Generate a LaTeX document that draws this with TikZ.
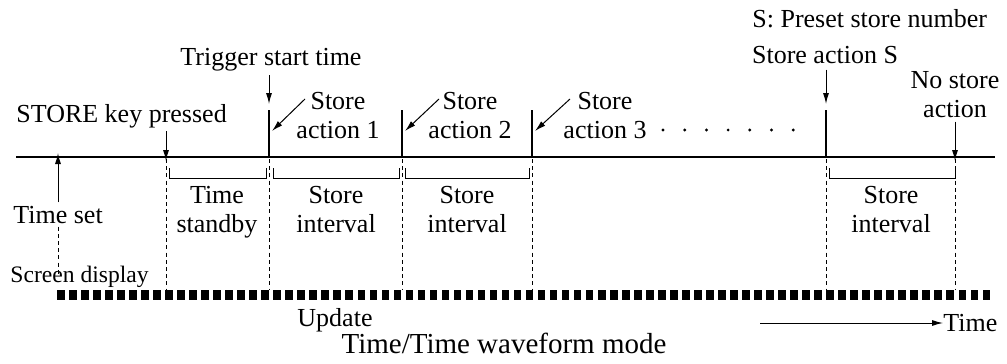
\documentclass[tikz,border=0pt]{standalone}
\usepackage{fontspec}
\setmainfont{Liberation Serif}
\usetikzlibrary{arrows.meta}

\begin{document}
\begin{tikzpicture}[
    x=0.5pt, y=-0.5pt,
    lbl/.style={inner sep=0pt, align=center, font=\fontsize{13}{14.3}\selectfont},
    axis/.style={line width=1.1pt},
    pulse/.style={line width=1.3pt},
    guide/.style={line width=0.4pt, dash pattern=on 2pt off 1.6pt},
    bracket/.style={line width=0.5pt},
    pointer/.style={-{Latex[length=5.5pt,width=3pt]}, line width=0.5pt}
  ]
    \useasboundingbox (0,0) rectangle (1007,364);

    % time axis and events
    \coordinate (axl) at (16,157);
    \coordinate (axr) at (995,157);
    \coordinate (tset) at (58,157);
    \coordinate (tkey) at (166,157);
    \coordinate (s1) at (269,157);
    \coordinate (s2) at (402,157);
    \coordinate (s3) at (532,157);
    \coordinate (sS) at (826,157);
    \coordinate (sN) at (955,157);
    \draw[axis] (axl) -- (axr);

    % store pulses
    \foreach \p in {s1,s2,s3,sS}
      \draw[pulse] (\p) -- ++(0,-47) coordinate (\p top);

    % dashed guides down to the display bar
    \foreach \p in {tkey,s1,s2,s3,sS,sN}
      \draw[guide] (\p) ++(0,2) -- ++(0,131);

    % screen update bar
    \foreach \i in {0,...,77}
      \fill (57+\i*12.02,290) rectangle ++(7.6,10);

    % labels above (base = last line)
    \node[lbl, anchor=base west] (note) at (752,27) {S: Preset store number};
    \node[lbl, anchor=base] (trig) at (271,65) {Trigger start time};
    \node[lbl, anchor=base] (acts) at (825,63) {Store action S};
    \node[lbl, anchor=base west] (key) at (16,122) {STORE key pressed};
    \node[lbl, anchor=base] (act1) at (338,138) {Store\\action 1};
    \node[lbl, anchor=base] (act2) at (470,138) {Store\\action 2};
    \node[lbl, anchor=base] (act3) at (605,138) {Store\\action 3};
    \node[lbl, anchor=base] (nost) at (955,117) {No store\\action};
    \foreach \i in {0,...,6}
      \fill (663+\i*21.7,130) circle (1.6);

    \draw[pointer] (trig.south -| s1) ++(0,4) -- ([yshift=3]s1top);
    \draw[pointer] (acts.south -| sS) ++(0,6) -- ([yshift=3]sStop);
    \draw[pointer] (key.south -| tkey) ++(0,3) -- ([yshift=-2]tkey);
    \draw[pointer] (nost.south -| sN) ++(0,4) -- ([yshift=-2]sN);
    \coordinate (a1) at (305,99);
    \coordinate (a2) at (439,99);
    \coordinate (a3) at (570,99);
    \draw[pointer] (a1) -- (272,131);
    \draw[pointer] (a2) -- (405,131);
    \draw[pointer] (a3) -- (535,131);

    % intervals below
    \draw[bracket] (169,168) |- (266,178) -- (266,168);
    \draw[bracket] (273,168) |- (399,178) -- (399,168);
    \draw[bracket] (405,168) |- (529,178) -- (529,168);
    \draw[bracket] (829,168) |- (955,178) -- (955,168);
    \node[lbl, anchor=base] (stby) at (217,232) {Time\\standby};
    \node[lbl, anchor=base] (int1) at (336,232) {Store\\interval};
    \node[lbl, anchor=base] (int2) at (467,232) {Store\\interval};
    \node[lbl, anchor=base] (int3) at (891,232) {Store\\interval};

    % time set and screen display
    \node[lbl, anchor=base west] (tsl) at (13,223) {Time set};
    \node[lbl, anchor=base west, font=\fontsize{11.8}{14}\selectfont] (scr) at (10,282) {Screen display};
    \draw[pointer] (tsl.north -| tset) ++(0,-3) -- ([yshift=2]tset);
    \draw[guide] (tsl.south -| tset) ++(0,3) -- ([yshift=-5]scr.north -| tset);

    % bottom
    \node[lbl, anchor=base] (upd) at (335,326) {Update};
    \node[lbl, anchor=base west] (tlab) at (943,331) {Time};
    \coordinate (tstart) at (760,323);
    \draw[pointer] (tstart) -- (tlab.west |- tstart);
    \node[inner sep=0pt, font=\fontsize{14.5}{17}\selectfont, anchor=base] (cap) at (504,353) {Time/Time waveform mode};
  \end{tikzpicture}
\end{document}
